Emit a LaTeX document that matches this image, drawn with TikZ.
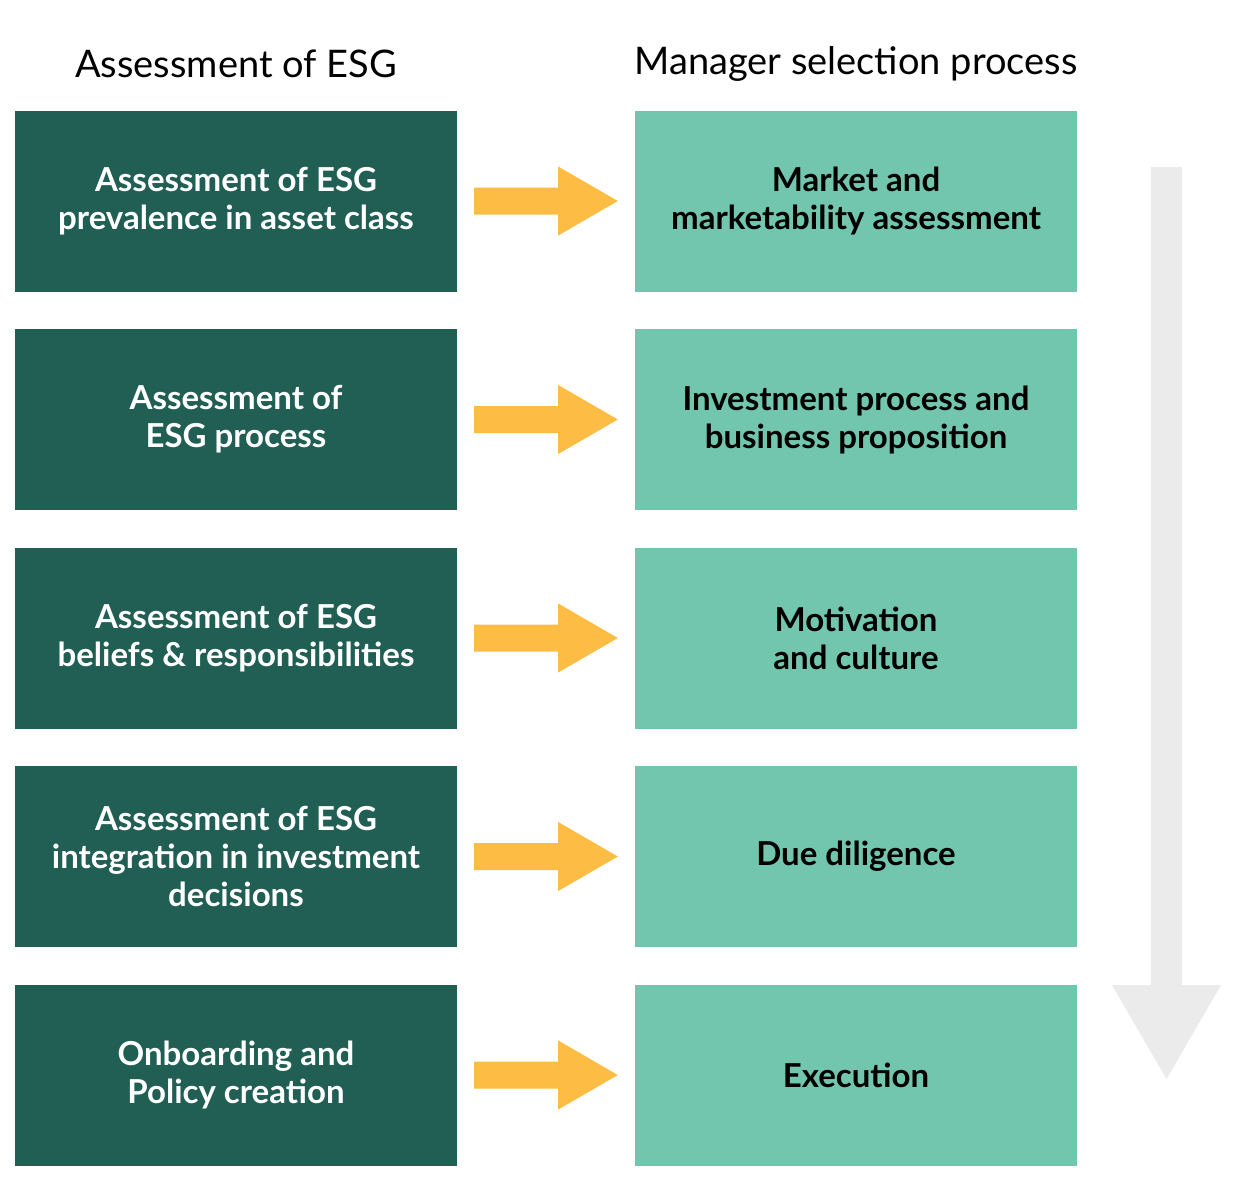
\documentclass[tikz,border=0pt]{standalone}
\usepackage{fontspec}
\usetikzlibrary{calc}
\setmainfont{Lato}
\definecolor{dkgreen}{HTML}{215F55}
\definecolor{ltgreen}{HTML}{72C6AE}
\definecolor{arrowyellow}{HTML}{FDBD45}
\definecolor{arrowgray}{HTML}{EBEBEB}
\begin{document}
\begin{tikzpicture}[x=1pt,y=-1pt,
  leftbox/.style={fill=dkgreen, text=white, minimum width=442pt, minimum height=181pt, inner sep=0pt, align=center, font=\fontsize{33}{38}\selectfont\bfseries},
  rightbox/.style={fill=ltgreen, text=black, minimum width=442pt, minimum height=181pt, inner sep=0pt, align=center, font=\fontsize{33}{38}\selectfont\bfseries},
  heading/.style={font=\fontsize{38}{44}\selectfont, text=black, inner sep=0pt}]
\useasboundingbox[fill=white] (0,0) rectangle (1240,1181);
% gray process arrow
\fill[arrowgray] (1151,167) -- (1182,167) -- (1182,985) -- (1221,985) -- (1166.5,1079) -- (1112,985) -- (1151,985) -- cycle;
\node[heading] (hl) at (236,64) {Assessment of ESG};
\node[heading] (hr) at (856,64) {Manager selection process};
\node[leftbox] (l1) at (236,201) {Assessment of ESG\\prevalence in asset class};
\node[leftbox] (l2) at (236,419.5) {Assessment of\\ESG process};
\node[leftbox] (l3) at (236,638) {Assessment of ESG\\beliefs \& responsibilities};
\node[leftbox] (l4) at (236,856.5) {Assessment of ESG\\integration in investment\\decisions};
\node[leftbox] (l5) at (236,1075) {Onboarding and\\Policy creation};
\node[rightbox] (r1) at (856,201) {Market and\\marketability assessment};
\node[rightbox] (r2) at (856,419.5) {Investment process and\\business proposition};
\node[rightbox] (r3) at (856,638) {Motivation\\and culture};
\node[rightbox] (r4) at (856,856.5) {Due diligence};
\node[rightbox] (r5) at (856,1075) {Execution};
\foreach \i in {1,...,5}{
  \fill[arrowyellow] ($(l\i.east)+(17,-13.5)$) -- ($(l\i.east)+(101,-13.5)$) -- ($(l\i.east)+(101,-34.5)$) -- ($(r\i.west)+(-17,0)$) -- ($(l\i.east)+(101,34.5)$) -- ($(l\i.east)+(101,13.5)$) -- ($(l\i.east)+(17,13.5)$) -- cycle;
}
\end{tikzpicture}
\end{document}
